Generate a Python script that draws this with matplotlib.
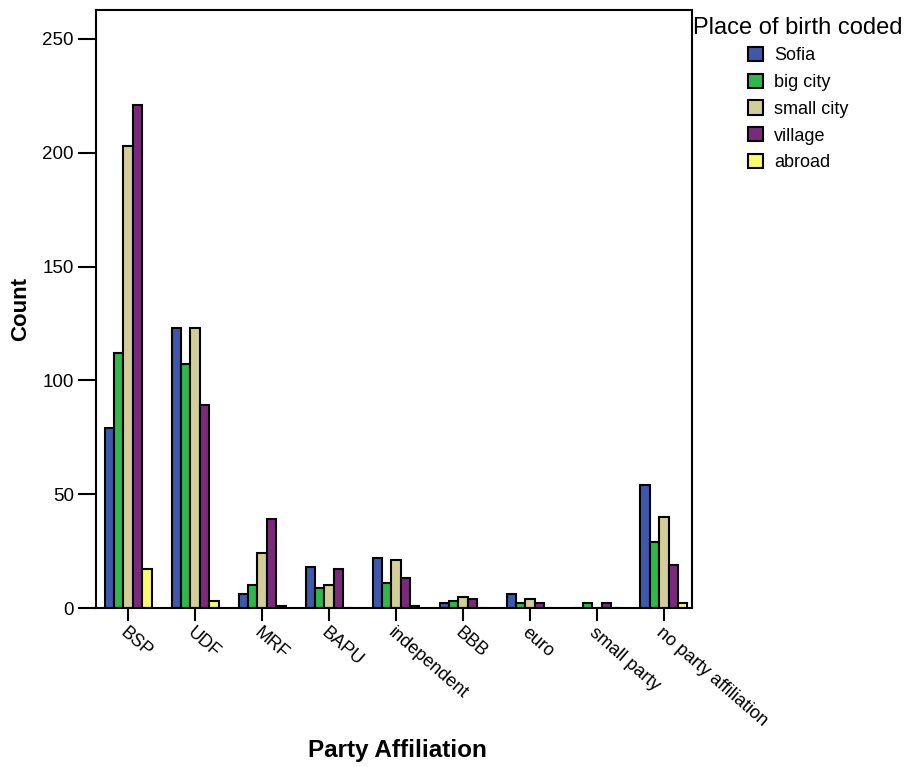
import numpy as np
import matplotlib.pyplot as plt
from matplotlib.patches import Patch

plt.rcParams['font.family'] = ['Liberation Sans', 'DejaVu Sans']

# counts
parties = ["BSP", "UDF", "MRF", "BAPU", "independent", "BBB", "euro",
           "small party", "no party affiliation"]
places = ["Sofia", "big city", "small city", "village", "abroad"]
sofia = [79, 123, 6, 18, 22, 2, 6, 0, 54]
big_city = [112, 107, 10, 9, 11, 3, 2, 2, 29]
small_city = [203, 123, 24, 10, 21, 5, 4, 0, 40]
village = [221, 89, 39, 17, 13, 4, 2, 2, 19]
abroad = [17, 3, 1, 0, 1, 0, 0, 0, 2]
colors = ["#3e58ac", "#2db84a", "#d3ce97", "#7b2a7b", "#fafa6e"]

series = [sofia, big_city, small_city, village, abroad]

fig = plt.figure(figsize=(9.17, 7.67), dpi=100)
ax = fig.add_axes([0.1047, 0.2073, 0.65, 0.7797])

x = np.arange(len(parties))
w = 0.14
for i, (vals, c) in enumerate(zip(series, colors)):
    ax.bar(x + (i - 2) * w, vals, width=w, color=c, edgecolor="black",
           linewidth=1.5)

ax.set_xlim(-0.48, len(parties) - 1 + 0.42)
ax.set_ylim(0, 262.7)
ax.set_yticks([0, 50, 100, 150, 200, 250])
ax.set_xticks(x)
ax.set_xticklabels(parties, rotation=-41, ha="left", va="top",
                   rotation_mode="anchor", fontsize=13)
ax.tick_params(axis="y", direction="out", length=13, width=1.5, pad=3,
               labelsize=13.5)
ax.tick_params(axis="x", direction="out", length=9.5, width=1.5, pad=2)
for s in ax.spines.values():
    s.set_linewidth(1.5)

ax.set_ylabel("Count", fontsize=16, fontweight="bold", labelpad=8)
fig.text(397 / 917, 1 - 750 / 767, "Party Affiliation", fontsize=17.5,
         fontweight="bold", ha="center", va="center")

# legend: title sits left, entries indented as in the original
fig.text(693 / 917, 1 - 28 / 767, "Place of birth coded", fontsize=17,
         ha="left", va="center")
handles = [Patch(facecolor=c, edgecolor="black", linewidth=1.5) for c in colors]
fig.legend(handles, places, loc="upper left",
           bbox_to_anchor=(748 / 917, 1 - 47 / 767),
           frameon=False, fontsize=13, borderpad=0, borderaxespad=0,
           handlelength=0.83, handleheight=0.83, labelspacing=0.52,
           handletextpad=0.6)

fig.savefig("out.png", dpi=100)
